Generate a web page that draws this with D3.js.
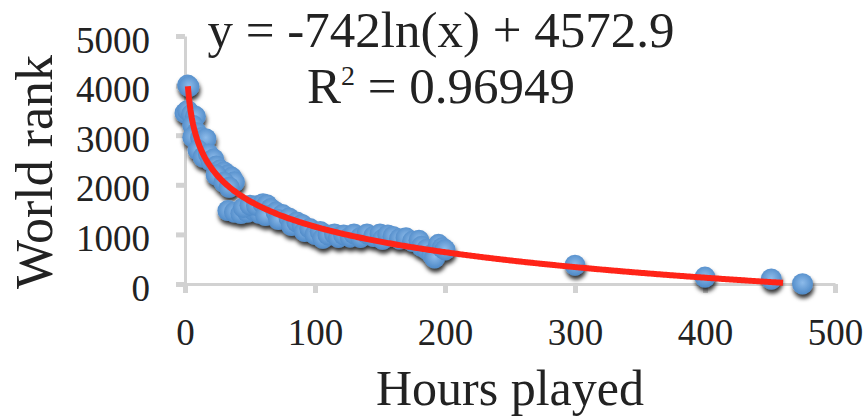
<!DOCTYPE html>
<html>
<head>
<meta charset="utf-8">
<script src="https://cdn.jsdelivr.net/npm/d3@7"></script>
<style>
  body { margin: 0; background: #fff; }
  text { font-family: "Liberation Serif", "DejaVu Serif", serif; fill: #222; }
</style>
</head>
<body>
<div class="main_area"></div>
<script>
// hours played vs world rank
const hours = [2, 3, 0, 2, 5, 8, 6, 9, 6, 12, 16, 10, 14, 18, 20, 22, 24, 27, 30, 33, 36, 38, 24, 30, 34,
  33, 38, 43, 48, 53, 57, 45, 50, 55, 60, 63, 66, 62, 70, 75, 72, 80, 82, 86, 90, 92, 96,
  100, 104, 106, 110, 115, 118, 122, 127, 130, 135, 140, 145, 150, 152, 156, 160, 165, 170,
  175, 180, 182, 186, 190, 192, 195, 198, 200, 300, 400, 451, 475];
const worldRank = [4010, 3980, 3450, 3500, 3420, 3380, 3200, 3050, 2960, 2950, 2930, 2700, 2560, 2620, 2480, 2520, 2380, 2300, 2260, 2200, 2150, 2060, 2200, 2050, 1950,
  1480, 1450, 1420, 1450, 1480, 1430, 1540, 1590, 1580, 1620, 1600, 1520, 1380, 1450, 1400, 1300, 1330, 1180, 1250, 1200, 1060, 1120,
  1000, 1060, 920, 990, 1010, 940, 990, 950, 1010, 940, 1010, 960, 1010, 900, 990, 960, 910, 930,
  860, 880, 760, 700, 600, 530, 800, 730, 690, 380, 140, 100, 5];

const xTicks = [0, 100, 200, 300, 400, 500];
const yTicks = [0, 1000, 2000, 3000, 4000, 5000];

// logarithmic trendline reported on the chart
const trendSlope = -742;
const trendIntercept = 4572.9;
const trendStart = 2.2, trendEnd = 460;

const width = 867, height = 418;

const svg = d3.select(".main_area")
  .append("svg")
  .attr("width", width)
  .attr("height", height);

const defs = svg.append("defs");

const shadow = defs.append("filter")
  .attr("id", "shadow")
  .attr("x", "-50%").attr("y", "-50%")
  .attr("width", "200%").attr("height", "200%");
shadow.append("feDropShadow")
  .attr("dx", 1).attr("dy", 4)
  .attr("stdDeviation", 2)
  .attr("flood-color", "#000")
  .attr("flood-opacity", 0.8);

const grad = defs.append("radialGradient")
  .attr("id", "dotFill")
  .attr("cx", "50%").attr("cy", "45%").attr("r", "55%");
grad.append("stop").attr("offset", "0%").attr("stop-color", "#8dbbea");
grad.append("stop").attr("offset", "100%").attr("stop-color", "#4f8ac8");

const xScale = d3.scaleLinear().domain([0, 500]).range([185, 835]);
const yScale = d3.scaleLinear().domain([0, 5000]).range([284, 36]);

// axes
const xAxis = svg.append("g")
  .attr("transform", "translate(0," + yScale(0) + ")")
  .call(d3.axisBottom(xScale).tickValues(xTicks).tickSize(9).tickSizeOuter(0).tickFormat(d3.format("d")));

xAxis.selectAll("text")
  .attr("y", 61)
  .attr("dy", 0)
  .style("font-size", "37px");

const yAxis = svg.append("g")
  .attr("transform", "translate(" + xScale(0) + ",0)")
  .call(d3.axisLeft(yScale).tickValues(yTicks).tickSize(9).tickSizeOuter(0).tickFormat(d3.format("d")));

yAxis.selectAll("text")
  .attr("x", -35)
  .attr("dy", 16)
  .style("font-size", "37px");

svg.selectAll(".domain")
  .attr("stroke", "#d2d2d2")
  .attr("stroke-width", 3);
svg.selectAll(".tick line")
  .attr("stroke", "#d2d2d2")
  .attr("stroke-width", 5);
svg.selectAll(".tick text")
  .attr("fill", "#333")
  .style("font-family", "Liberation Serif");

// points
svg.append("g")
  .attr("filter", "url(#shadow)")
  .selectAll("circle")
  .data(hours.map((h, i) => ({h: h, r: worldRank[i]})))
  .join("circle")
    .attr("cx", d => xScale(d.h))
    .attr("cy", d => yScale(d.r))
    .attr("r", 10.5)
    .attr("fill", "url(#dotFill)");

// trendline
const trendX = d3.range(trendStart, trendEnd, 1).concat([trendEnd]);
svg.append("path")
  .datum(trendX)
  .attr("fill", "none")
  .attr("stroke", "#ff2418")
  .attr("stroke-width", 6)
  .attr("d", d3.line()
    .x(d => xScale(d))
    .y(d => yScale(trendSlope * Math.log(d) + trendIntercept)));

// equation
svg.append("text")
  .attr("x", 441)
  .attr("y", 47)
  .attr("text-anchor", "middle")
  .style("font-size", "51px")
  .text("y = -742ln(x) + 4572.9");

const r2 = svg.append("text")
  .attr("x", 441)
  .attr("y", 103)
  .attr("text-anchor", "middle")
  .style("font-size", "51px");
r2.append("tspan").text("R");
r2.append("tspan").attr("dy", -18).style("font-size", "28px").text("2");
r2.append("tspan").attr("dy", 18).text(" = 0.96949");

// axis titles
svg.append("text")
  .attr("x", 510)
  .attr("y", 405)
  .attr("text-anchor", "middle")
  .style("font-size", "50px")
  .text("Hours played");

svg.append("text")
  .attr("transform", "translate(52,172) rotate(-90)")
  .attr("text-anchor", "middle")
  .style("font-size", "52px")
  .text("World rank");
</script>
</body>
</html>
